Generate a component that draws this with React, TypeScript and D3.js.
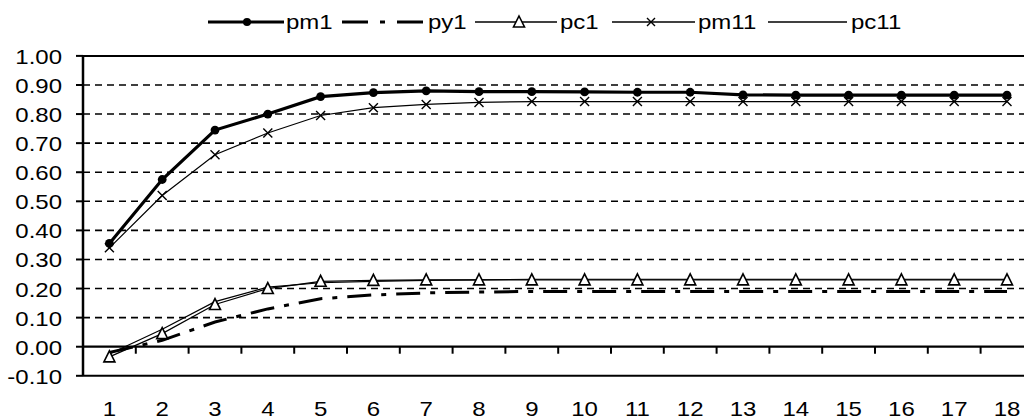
import React from "react";
import * as d3 from "d3";

const categories = ["1","2","3","4","5","6","7","8","9","10","11","12","13","14","15","16","17","18"];
const pm1 = [0.355,0.575,0.745,0.80,0.86,0.874,0.880,0.877,0.877,0.876,0.875,0.875,0.866,0.865,0.865,0.865,0.865,0.865];
const py1 = [-0.02,0.022,0.085,0.13,0.165,0.178,0.185,0.188,0.19,0.19,0.19,0.19,0.19,0.19,0.19,0.19,0.19,0.19];
const pc1 = [-0.035,0.045,0.145,0.20,0.225,0.228,0.23,0.23,0.23,0.23,0.23,0.23,0.23,0.23,0.23,0.23,0.23,0.23];
const pm11 = [0.34,0.52,0.66,0.735,0.795,0.822,0.833,0.84,0.843,0.843,0.843,0.843,0.843,0.843,0.843,0.843,0.843,0.843];
const pc11 = [-0.025,0.06,0.155,0.205,0.22,0.225,0.228,0.23,0.232,0.232,0.232,0.232,0.232,0.232,0.232,0.232,0.232,0.232];
const yTicks = [-0.1,0,0.1,0.2,0.3,0.4,0.5,0.6,0.7,0.8,0.9,1.0];
const gridTicks = [0.1,0.2,0.3,0.4,0.5,0.6,0.7,0.8,0.9];

const FONT = "'Liberation Sans', Arial, sans-serif";

function T({ x, y, children, anchor = "start", size = 20 }: any) {
  return (
    <text
      transform={`translate(${x},${y}) scale(1.2,1)`}
      textAnchor={anchor}
      fontFamily={FONT}
      fontSize={size}
      fill="#000"
    >
      {children}
    </text>
  );
}

function Triangle({ x, y }: any) {
  const w = 11, h = 10;
  return (
    <path
      d={`M${x},${y - h / 2 - 1}L${x + w / 2},${y + h / 2}L${x - w / 2},${y + h / 2}Z`}
      fill="#fff"
      stroke="#000"
      strokeWidth={1.6}
    />
  );
}

function Cross({ x, y, s = 4.5 }: any) {
  return (
    <path
      d={`M${x - s},${y - s}L${x + s},${y + s}M${x - s},${y + s}L${x + s},${y - s}`}
      stroke="#000"
      strokeWidth={1.4}
      fill="none"
    />
  );
}

export default function App() {
  const left = 83;
  const x = d3.scaleBand<string>().domain(categories).range([left, 1033.4]).padding(0);
  const cx = (c: string) => (x(c) as number) + x.bandwidth() / 2;
  const y = d3.scaleLinear().domain([-0.1, 1.0]).range([375.8, 55.9]);

  const line = d3
    .line<number>()
    .x((_, i) => cx(categories[i]))
    .y((d) => y(d));

  const boundaries = categories.slice(1).map((c) => x(c) as number);

  return (
    <svg
      width={1024}
      height={420}
      style={{ position: "absolute", left: 0, top: 0, background: "#fff" }}
    >
      <rect x={0} y={0} width={1024} height={420} fill="#fff" />
      {gridTicks.map((t) => (
        <line
          key={t}
          x1={left}
          x2={1024}
          y1={y(t)}
          y2={y(t)}
          stroke="#000"
          strokeWidth={1.6}
          strokeDasharray="7 5"
        />
      ))}
      <line x1={left} x2={1024} y1={y(1.0)} y2={y(1.0)} stroke="#000" strokeWidth={2} />
      <line x1={left} x2={1024} y1={y(-0.1)} y2={y(-0.1)} stroke="#000" strokeWidth={2} />
      <line x1={left} x2={1024} y1={y(0)} y2={y(0)} stroke="#000" strokeWidth={2.2} />
      {boundaries.map((b, i) => (
        <line key={i} x1={b} x2={b} y1={y(0)} y2={y(0) + 7} stroke="#000" strokeWidth={2} />
      ))}
      <line x1={left} x2={left} y1={y(1.0)} y2={y(-0.1)} stroke="#000" strokeWidth={2.5} />
      {yTicks.map((t) => (
        <g key={t}>
          <line x1={left - 7} x2={left} y1={y(t)} y2={y(t)} stroke="#000" strokeWidth={2} />
          <T x={62} y={y(t) + 8} anchor="end">
            {t.toFixed(2)}
          </T>
        </g>
      ))}
      {categories.map((c) => (
        <T key={c} x={cx(c)} y={416} anchor="middle">
          {c}
        </T>
      ))}

      <path d={line(pc11) as string} fill="none" stroke="#000" strokeWidth={1.2} />
      <path d={line(pc1) as string} fill="none" stroke="#000" strokeWidth={1.2} />
      <path
        d={line(py1) as string}
        fill="none"
        stroke="#000"
        strokeWidth={3}
        strokeDasharray="24 10 5 10"
      />
      <path d={line(pm11) as string} fill="none" stroke="#000" strokeWidth={1.2} />
      <path d={line(pm1) as string} fill="none" stroke="#000" strokeWidth={3.2} />
      {pc1.map((v, i) => (
        <Triangle key={"t" + i} x={cx(categories[i])} y={y(v)} />
      ))}
      {pm11.map((v, i) => (
        <Cross key={"c" + i} x={cx(categories[i])} y={y(v)} />
      ))}
      {pm1.map((v, i) => (
        <circle key={"m" + i} cx={cx(categories[i])} cy={y(v)} r={4.4} fill="#000" />
      ))}

      <g>
        <line x1={208} x2={284} y1={22} y2={22} stroke="#000" strokeWidth={3} />
        <circle cx={247} cy={22} r={4} fill="#000" />
        <T x={286} y={29}>pm1</T>

        <line x1={342} x2={426} y1={22} y2={22} stroke="#000" strokeWidth={3} strokeDasharray="26 12 5 12" />
        <T x={428} y={29}>py1</T>

        <line x1={475} x2={557} y1={22} y2={22} stroke="#000" strokeWidth={1.4} />
        <Triangle x={519} y={22} />
        <T x={560} y={29}>pc1</T>

        <line x1={612} x2={695} y1={22} y2={22} stroke="#000" strokeWidth={1.4} />
        <Cross x={651} y={22} s={4} />
        <T x={698} y={29}>pm11</T>

        <line x1={768} x2={847} y1={22} y2={22} stroke="#000" strokeWidth={1.4} />
        <T x={851} y={29}>pc11</T>
      </g>
    </svg>
  );
}
